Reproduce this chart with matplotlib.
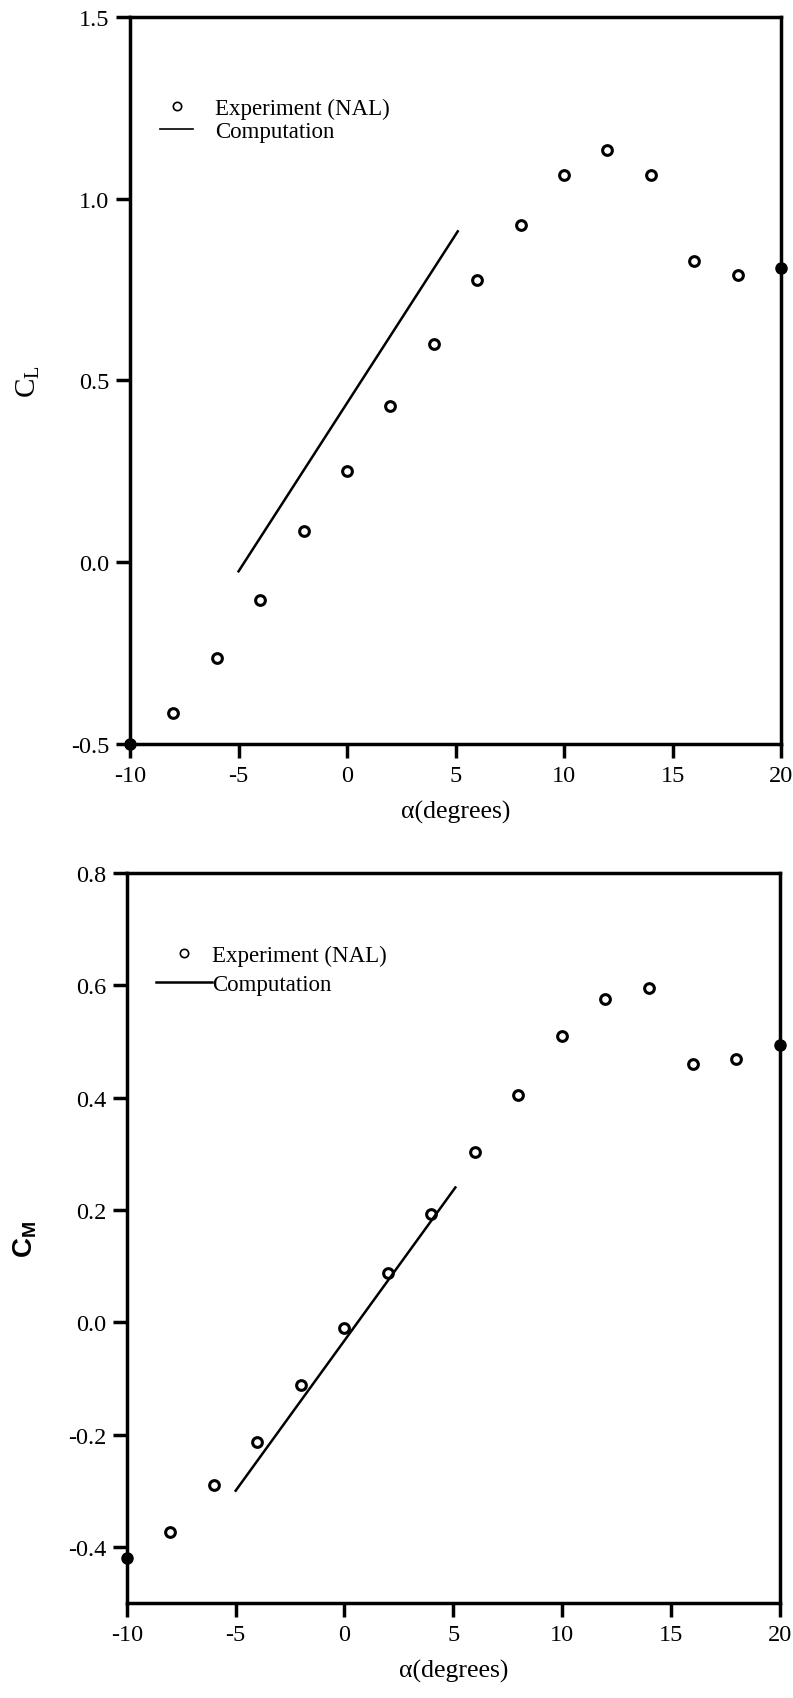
import matplotlib.pyplot as plt
from matplotlib.lines import Line2D

# Angle of attack (degrees)
alpha = [-10, -8, -6, -4, -2, 0, 2, 4, 6, 8, 10, 12, 14, 16, 18, 20]

# Experiment (NAL)
cl_exp = [-0.50, -0.415, -0.263, -0.103, 0.086, 0.251, 0.430, 0.599,
          0.776, 0.927, 1.064, 1.135, 1.064, 0.828, 0.789, 0.808]
cm_exp = [-0.42, -0.373, -0.29, -0.214, -0.111, -0.011, 0.087, 0.192,
          0.304, 0.405, 0.510, 0.575, 0.596, 0.459, 0.469, 0.493]

# Computation
alpha_comp = [-5.0, 5.1]
cl_comp = [-0.025, 0.91]
cm_comp = [-0.30, 0.24]

x_ticks = [-10, -5, 0, 5, 10, 15, 20]
cl_ticks = [-0.5, 0.0, 0.5, 1.0, 1.5]
cm_ticks = [-0.4, -0.2, 0.0, 0.2, 0.4, 0.6, 0.8]

plt.rcParams['font.family'] = ['Liberation Serif', 'DejaVu Serif']
plt.rcParams['mathtext.fontset'] = 'custom'
plt.rcParams['mathtext.rm'] = 'Liberation Serif'
plt.rcParams['mathtext.bf'] = 'Liberation Sans:bold'

fig = plt.figure(figsize=(7.93, 16.99), dpi=100)
ax1 = fig.add_axes([0.164, 0.5615, 0.821, 0.428])
ax2 = fig.add_axes([0.160, 0.0559, 0.823, 0.4297])


def style_axes(ax, yticks, ylim):
    ax.set_xlim(-10, 20)
    ax.set_ylim(*ylim)
    ax.set_xticks(x_ticks)
    ax.set_xticklabels([str(t) for t in x_ticks])
    ax.set_yticks(yticks)
    ax.set_yticklabels([f"{t:.1f}" for t in yticks])
    ax.tick_params(direction='out', length=10, width=2.5, labelsize=17.5, pad=5)
    for s in ax.spines.values():
        s.set_linewidth(2.5)
    ax.set_xlabel('\u03b1(degrees)', fontsize=18.5, labelpad=10)


def plot_exp(ax, y):
    inner = [(a, v) for a, v in zip(alpha, y) if -10 < a < 20]
    edge = [(a, v) for a, v in zip(alpha, y) if a in (-10, 20)]
    ax.plot([p[0] for p in inner], [p[1] for p in inner], 'o', ms=7,
            mfc='white', mec='black', mew=2.2, ls='none')
    ax.plot([p[0] for p in edge], [p[1] for p in edge], 'o', ms=8,
            color='black', ls='none', clip_on=False, zorder=5)


# C_L
style_axes(ax1, cl_ticks, (-0.5, 1.5))
plot_exp(ax1, cl_exp)
ax1.plot(alpha_comp, cl_comp, color='black', lw=1.8)
ax1.set_ylabel(r'$\mathregular{C_L}$', fontsize=21)
ax1.yaxis.set_label_coords(-0.135, 0.5)

h1 = [Line2D([], [], marker='o', ls='none', ms=6, mfc='white', mec='black', mew=1.2),
      Line2D([], [], color='black', lw=1.2)]
ax1.legend(h1, ['Experiment (NAL)', 'Computation'], loc='center left',
           bbox_to_anchor=(0.046, 0.858), frameon=False, fontsize=16.5,
           handlelength=1.45, handletextpad=0.95, labelspacing=0.1,
           borderpad=0, borderaxespad=0)

# C_M
style_axes(ax2, cm_ticks, (-0.5, 0.8))
plot_exp(ax2, cm_exp)
ax2.plot(alpha_comp, cm_comp, color='black', lw=1.8)
ax2.set_ylabel(r'$\mathbf{C_M}$', fontsize=20)
ax2.yaxis.set_label_coords(-0.135, 0.5)

h2 = [Line2D([], [], marker='o', ls='none', ms=6, mfc='white', mec='black', mew=1.2),
      Line2D([], [], color='black', lw=1.8)]
ax2.legend(h2, ['Experiment (NAL)', 'Computation'], loc='center left',
           bbox_to_anchor=(0.044, 0.867), frameon=False, fontsize=16.5,
           handlelength=2.45, handletextpad=0.0, labelspacing=0.35,
           borderpad=0, borderaxespad=0)

plt.savefig('out.png', dpi=100)
